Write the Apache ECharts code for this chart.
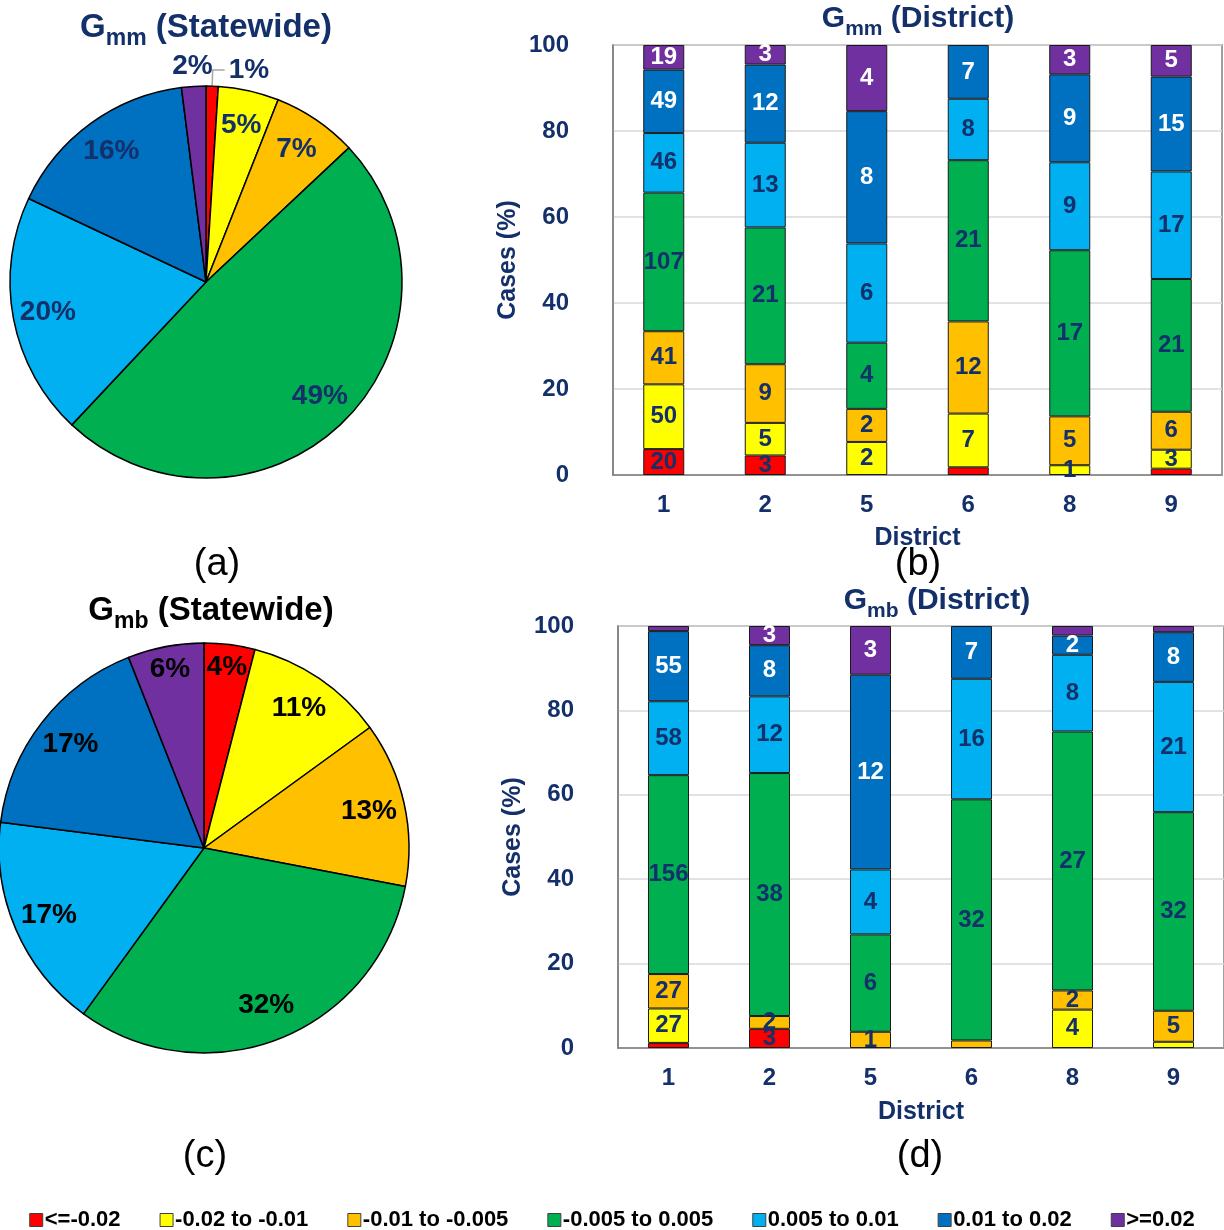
<!DOCTYPE html>
<html>
<head>
<meta charset="utf-8">
<script src="https://cdn.jsdelivr.net/npm/echarts@6/dist/echarts.min.js"></script>
<style>
html,body{margin:0;padding:0;background:#fff;}
#chart{width:1224px;height:1230px;}
</style>
</head>
<body>
<div id="chart"></div>
<script>
// ---------- DATA ----------
const districts = ['1', '2', '5', '6', '8', '9'];
const classes = ['<=-0.02', '-0.02 to -0.01', '-0.01 to -0.005', '-0.005 to 0.005', '0.005 to 0.01', '0.01 to 0.02', '>=0.02'];
const classColors = ['#FF0000', '#FFFF00', '#FFC000', '#00B050', '#00B0F0', '#0070C0', '#7030A0'];

// statewide shares (%)
const gmmStatewide = [1, 5, 7, 49, 20, 16, 2];
const gmbStatewide = [4, 11, 13, 32, 17, 17, 6];

// case counts per class (rows) and district (columns)
const gmmRed    = [20, 3, 0, 1, 0, 1];
const gmmYellow = [50, 5, 2, 7, 1, 3];
const gmmOrange = [41, 9, 2, 12, 5, 6];
const gmmGreen  = [107, 21, 4, 21, 17, 21];
const gmmLBlue  = [46, 13, 6, 8, 9, 17];
const gmmBlue   = [49, 12, 8, 7, 9, 15];
const gmmPurple = [19, 3, 4, 0, 3, 5];

const gmbRed    = [4, 3, 0, 0, 0, 0];
const gmbYellow = [27, 0, 0, 0, 4, 1];
const gmbOrange = [27, 2, 1, 1, 2, 5];
const gmbGreen  = [156, 38, 6, 32, 27, 32];
const gmbLBlue  = [58, 12, 4, 16, 8, 21];
const gmbBlue   = [55, 8, 12, 7, 2, 8];
const gmbPurple = [4, 3, 3, 0, 1, 1];

// segments whose count is not printed in the reference: [classIndex, districtIndex]
const gmmUnlabeled = [[0, 3], [0, 5]];
const gmbUnlabeled = [[0, 0], [6, 0], [2, 3], [6, 4], [1, 5], [6, 5]];

const yTicks = [0, 20, 40, 60, 80, 100];

// ---------- STYLE ----------
const NAVY = '#14306b';
const FONT = '"Liberation Sans", Arial, sans-serif';

const gmmCounts = [gmmRed, gmmYellow, gmmOrange, gmmGreen, gmmLBlue, gmmBlue, gmmPurple];
const gmbCounts = [gmbRed, gmbYellow, gmbOrange, gmbGreen, gmbLBlue, gmbBlue, gmbPurple];

function barSeries(counts, unlabeled, gi) {
  const totals = districts.map((d, j) => counts.reduce((s, row) => s + row[j], 0));
  return classes.map((cls, i) => ({
    type: 'bar',
    name: cls,
    stack: 'st' + gi,
    xAxisIndex: gi,
    yAxisIndex: gi,
    barWidth: 41,
    data: counts[i].map((v, j) => ({
      value: v > 0 ? v / totals[j] * 100 : '-',
      count: v,
      label: { show: v > 0 && !unlabeled.some(u => u[0] === i && u[1] === j) }
    })),
    itemStyle: { color: classColors[i], borderColor: '#1a1a1a', borderWidth: 1 },
    label: {
      position: 'inside',
      formatter: p => String(p.data.count),
      fontSize: 24, fontWeight: 'bold', fontFamily: FONT,
      color: i >= 5 ? '#ffffff' : NAVY
    },
    emphasis: { disabled: true },
    z: 3
  }));
}

function mainPie(vals, center, r) {
  return {
    type: 'pie', center: center, radius: [0, r], startAngle: 90, clockwise: true,
    avoidLabelOverlap: false, silent: true,
    itemStyle: { borderColor: '#000', borderWidth: 1.5 },
    label: { show: false },
    labelLine: { show: false },
    emphasis: { disabled: true },
    data: vals.map((v, i) => ({ value: v, name: classes[i], itemStyle: { color: classColors[i] } })),
    z: 2
  };
}

function ghostPie(vals, center, labelR, showIdx, color) {
  // transparent copy of the pie whose 'inside' labels sit at radius labelR
  const R = 2 * (labelR - 3);
  return {
    type: 'pie', center: center, radius: [0, R], startAngle: 90, clockwise: true,
    avoidLabelOverlap: false, silent: true, legendHoverLink: false,
    itemStyle: { color: 'transparent', borderWidth: 0 },
    label: {
      position: 'inside', formatter: '{c}%',
      fontSize: 28, fontWeight: 'bold', fontFamily: FONT, color: color
    },
    labelLine: { show: false },
    emphasis: { disabled: true },
    data: vals.map((v, i) => ({ value: v, name: classes[i], label: { show: showIdx.includes(i) } })),
    z: 4
  };
}

// title with subscript: both tokens bottom-aligned, main text lifted with bottom padding
function richTitle(main, sub, rest, color, size, left, top) {
  return {
    text: '{g|' + main + '}{s|' + sub + '}{g|' + rest + '}',
    left: left, top: top, textAlign: 'center', textVerticalAlign: 'top', padding: 0,
    textStyle: {
      rich: {
        g: { fontSize: size, fontWeight: 'bold', color: color, fontFamily: FONT, verticalAlign: 'bottom', padding: [0, 0, 6, 0] },
        s: { fontSize: Math.round(size * 0.7), fontWeight: 'bold', color: color, fontFamily: FONT, verticalAlign: 'bottom' }
      }
    }
  };
}

function panelTag(txt, x, y) {
  return {
    text: txt, left: x, top: y, textAlign: 'center', textVerticalAlign: 'middle', padding: 0,
    textStyle: { fontSize: 38, fontWeight: 'normal', color: '#000', fontFamily: FONT }
  };
}

function yAxisCfg(gi) {
  return {
    type: 'value', gridIndex: gi, min: yTicks[0], max: yTicks[yTicks.length - 1], interval: 20,
    name: 'Cases (%)', nameLocation: 'middle', nameGap: 92,
    nameTextStyle: { fontSize: 25, fontWeight: 'bold', color: NAVY, fontFamily: FONT },
    axisLabel: { fontSize: 24, fontWeight: 'bold', color: NAVY, fontFamily: FONT, margin: 44 },
    axisLine: { show: true, lineStyle: { color: '#808080', width: 1.5 } },
    axisTick: { show: false },
    splitLine: { show: true, lineStyle: { color: '#d9d9d9', width: 1.5 } }
  };
}
function xAxisCfg(gi, gap) {
  return {
    type: 'category', gridIndex: gi, data: districts,
    name: 'District', nameLocation: 'middle', nameGap: gap,
    nameTextStyle: { fontSize: 25, fontWeight: 'bold', color: NAVY, fontFamily: FONT },
    axisLabel: { fontSize: 24, fontWeight: 'bold', color: NAVY, fontFamily: FONT, margin: 18 },
    axisLine: { show: true, lineStyle: { color: '#808080', width: 1.5 } },
    axisTick: { show: false }
  };
}

const option = {
  animation: false,
  backgroundColor: '#ffffff',
  title: [
    richTitle('G', 'mm', ' (Statewide)', NAVY, 33, 206, 11),
    richTitle('G', 'mm', ' (District)', NAVY, 30, 918, 4),
    richTitle('G', 'mb', ' (Statewide)', '#000000', 33, 211, 594),
    richTitle('G', 'mb', ' (District)', NAVY, 30, 937, 586),
    panelTag('(a)', 217, 565),
    panelTag('(b)', 918, 565),
    panelTag('(c)', 205, 1157),
    panelTag('(d)', 920, 1157)
  ],
  legend: {
    top: 1204, left: 'center', itemGap: 39, itemWidth: 13, itemHeight: 13, icon: 'rect',
    textStyle: { fontSize: 22, fontWeight: 'bold', color: '#000', fontFamily: FONT, padding: [0, 0, 0, -3] },
    data: classes.map((c, i) => ({ name: c, itemStyle: { color: classColors[i], borderColor: '#404040', borderWidth: 1 } }))
  },
  grid: [
    { left: 613, top: 45, width: 609, height: 430, show: true, borderColor: '#808080', borderWidth: 1.5, backgroundColor: 'transparent' },
    { left: 618, top: 626, width: 606, height: 422, show: true, borderColor: '#808080', borderWidth: 1.5, backgroundColor: 'transparent' }
  ],
  xAxis: [xAxisCfg(0, 51), xAxisCfg(1, 52)],
  yAxis: [yAxisCfg(0), yAxisCfg(1)],
  series: [
    ...barSeries(gmmCounts, gmmUnlabeled, 0),
    ...barSeries(gmbCounts, gmbUnlabeled, 1),
    // (a) pie
    (function () {
      const s = mainPie(gmmStatewide, [206, 282], 196);
      s.data[0].label = {
        show: true, position: 'outside', formatter: '{c}%',
        fontSize: 28, fontWeight: 'bold', fontFamily: FONT, color: NAVY, distanceToLabelLine: 4
      };
      s.data[0].labelLine = { show: true, length: 16, length2: 12, lineStyle: { color: '#a6a6a6', width: 1.5 } };
      return s;
    })(),
    ghostPie(gmmStatewide, [206, 282], 161, [1, 2, 3, 4, 5], NAVY),
    ghostPie(gmmStatewide, [206, 282], 216, [6], NAVY),
    // (c) pie
    mainPie(gmbStatewide, [204, 848], 205),
    ghostPie(gmbStatewide, [204, 848], 169, [1, 2, 3, 4, 5], '#000000'),
    ghostPie(gmbStatewide, [204, 848], 182, [0, 6], '#000000')
  ]
};

const chart = echarts.init(document.getElementById('chart'), null, { renderer: 'canvas' });
chart.setOption(option);
</script>
</body>
</html>
